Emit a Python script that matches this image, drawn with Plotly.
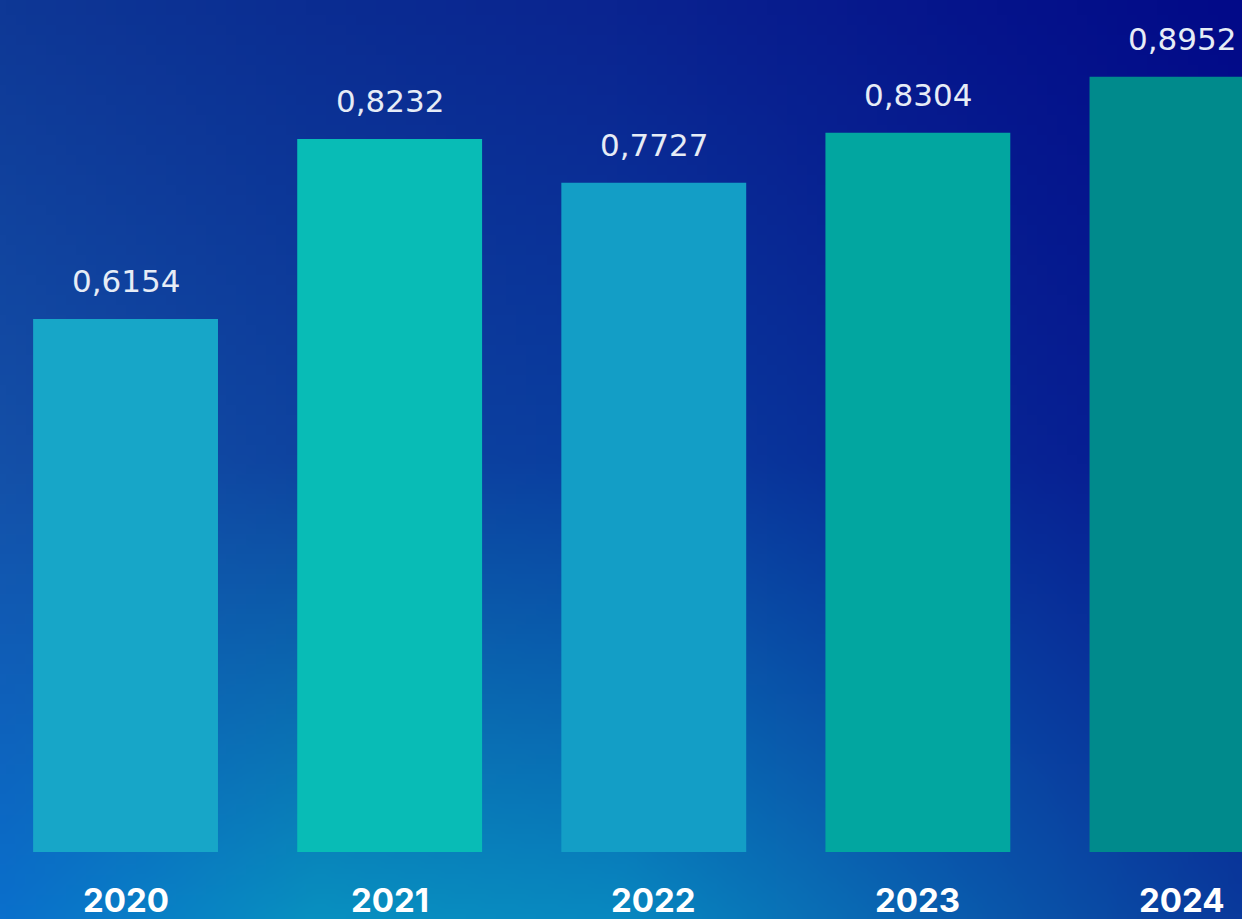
import base64, struct, zlib
import numpy as np
import plotly.graph_objects as go

years = ["2020", "2021", "2022", "2023", "2024"]
values = [0.6154, 0.8232, 0.7727, 0.8304, 0.8952]
value_labels = ["0,6154", "0,8232", "0,7727", "0,8304", "0,8952"]
bar_colors = ["#17a6c8", "#08bcb6", "#139ec6", "#02a6a0", "#008a8c"]

W, H = 1242, 919


def hex2rgb(h):
    h = h.lstrip("#")
    return [int(h[i:i + 2], 16) for i in (0, 2, 4)]


# background gradient control grid (rows top->bottom, cols left->right)
grid = [
    ["#0e3896", "#0b2d92", "#0a2490", "#06168c", "#020a88"],
    ["#1450a8", "#0e44a0", "#0a3ea0", "#082a96", "#061690"],
    ["#0a70cc", "#0890c0", "#0888c0", "#0a60b0", "#0a3a9c"],
]
g = np.array([[hex2rgb(c) for c in row] for row in grid], dtype=float)
gw, gh = 124, 92
ys = np.linspace(0, g.shape[0] - 1, gh)
xs = np.linspace(0, g.shape[1] - 1, gw)
img = np.zeros((gh, gw, 3))
for ch in range(3):
    tmp = np.array([np.interp(xs, np.arange(g.shape[1]), g[r, :, ch]) for r in range(g.shape[0])])
    img[:, :, ch] = np.array([np.interp(ys, np.arange(g.shape[0]), tmp[:, c]) for c in range(gw)]).T
img = np.clip(img, 0, 255).astype(np.uint8)


def png_bytes(a):
    h, w, _ = a.shape
    raw = b"".join(b"\x00" + a[r].tobytes() for r in range(h))

    def chunk(t, d):
        c = struct.pack(">I", len(d)) + t + d
        return c + struct.pack(">I", zlib.crc32(t + d) & 0xFFFFFFFF)

    return (b"\x89PNG\r\n\x1a\n" + chunk(b"IHDR", struct.pack(">IIBBBBB", w, h, 8, 2, 0, 0, 0))
            + chunk(b"IDAT", zlib.compress(raw, 9)) + chunk(b"IEND", b""))


bg_uri = "data:image/png;base64," + base64.b64encode(png_bytes(img)).decode()

fig = go.Figure()
fig.add_trace(go.Bar(x=years, y=values, marker=dict(color=bar_colors, line=dict(width=0)),
                     hoverinfo="skip", showlegend=False))

for i, (yr, v, lab) in enumerate(zip(years, values, value_labels)):
    fig.add_annotation(x=i, y=v, text=lab, showarrow=False, yanchor="middle", yshift=38,
                       font=dict(family="DejaVu Sans, sans-serif", size=31, color="#e6ecf6"))
    fig.add_annotation(x=i, y=0, text="<b>%s</b>" % yr, showarrow=False, yanchor="middle", yshift=-48,
                       font=dict(family="Inter, sans-serif", size=33, color="#ffffff"))

fig.update_layout(
    width=W, height=H, margin=dict(l=0, r=0, t=0, b=0),
    paper_bgcolor="rgba(0,0,0,0)", plot_bgcolor="rgba(0,0,0,0)",
    bargap=0.3,
    images=[dict(source=bg_uri, xref="paper", yref="paper", x=0, y=1, sizex=1, sizey=1,
                 xanchor="left", yanchor="top", sizing="stretch", layer="below")],
    xaxis=dict(type="category", range=[-0.4754, 4.2273], visible=False, fixedrange=True),
    yaxis=dict(range=[-0.0774, 0.9838], visible=False, fixedrange=True),
)

fig.write_html("out.html", config={"displayModeBar": False})
